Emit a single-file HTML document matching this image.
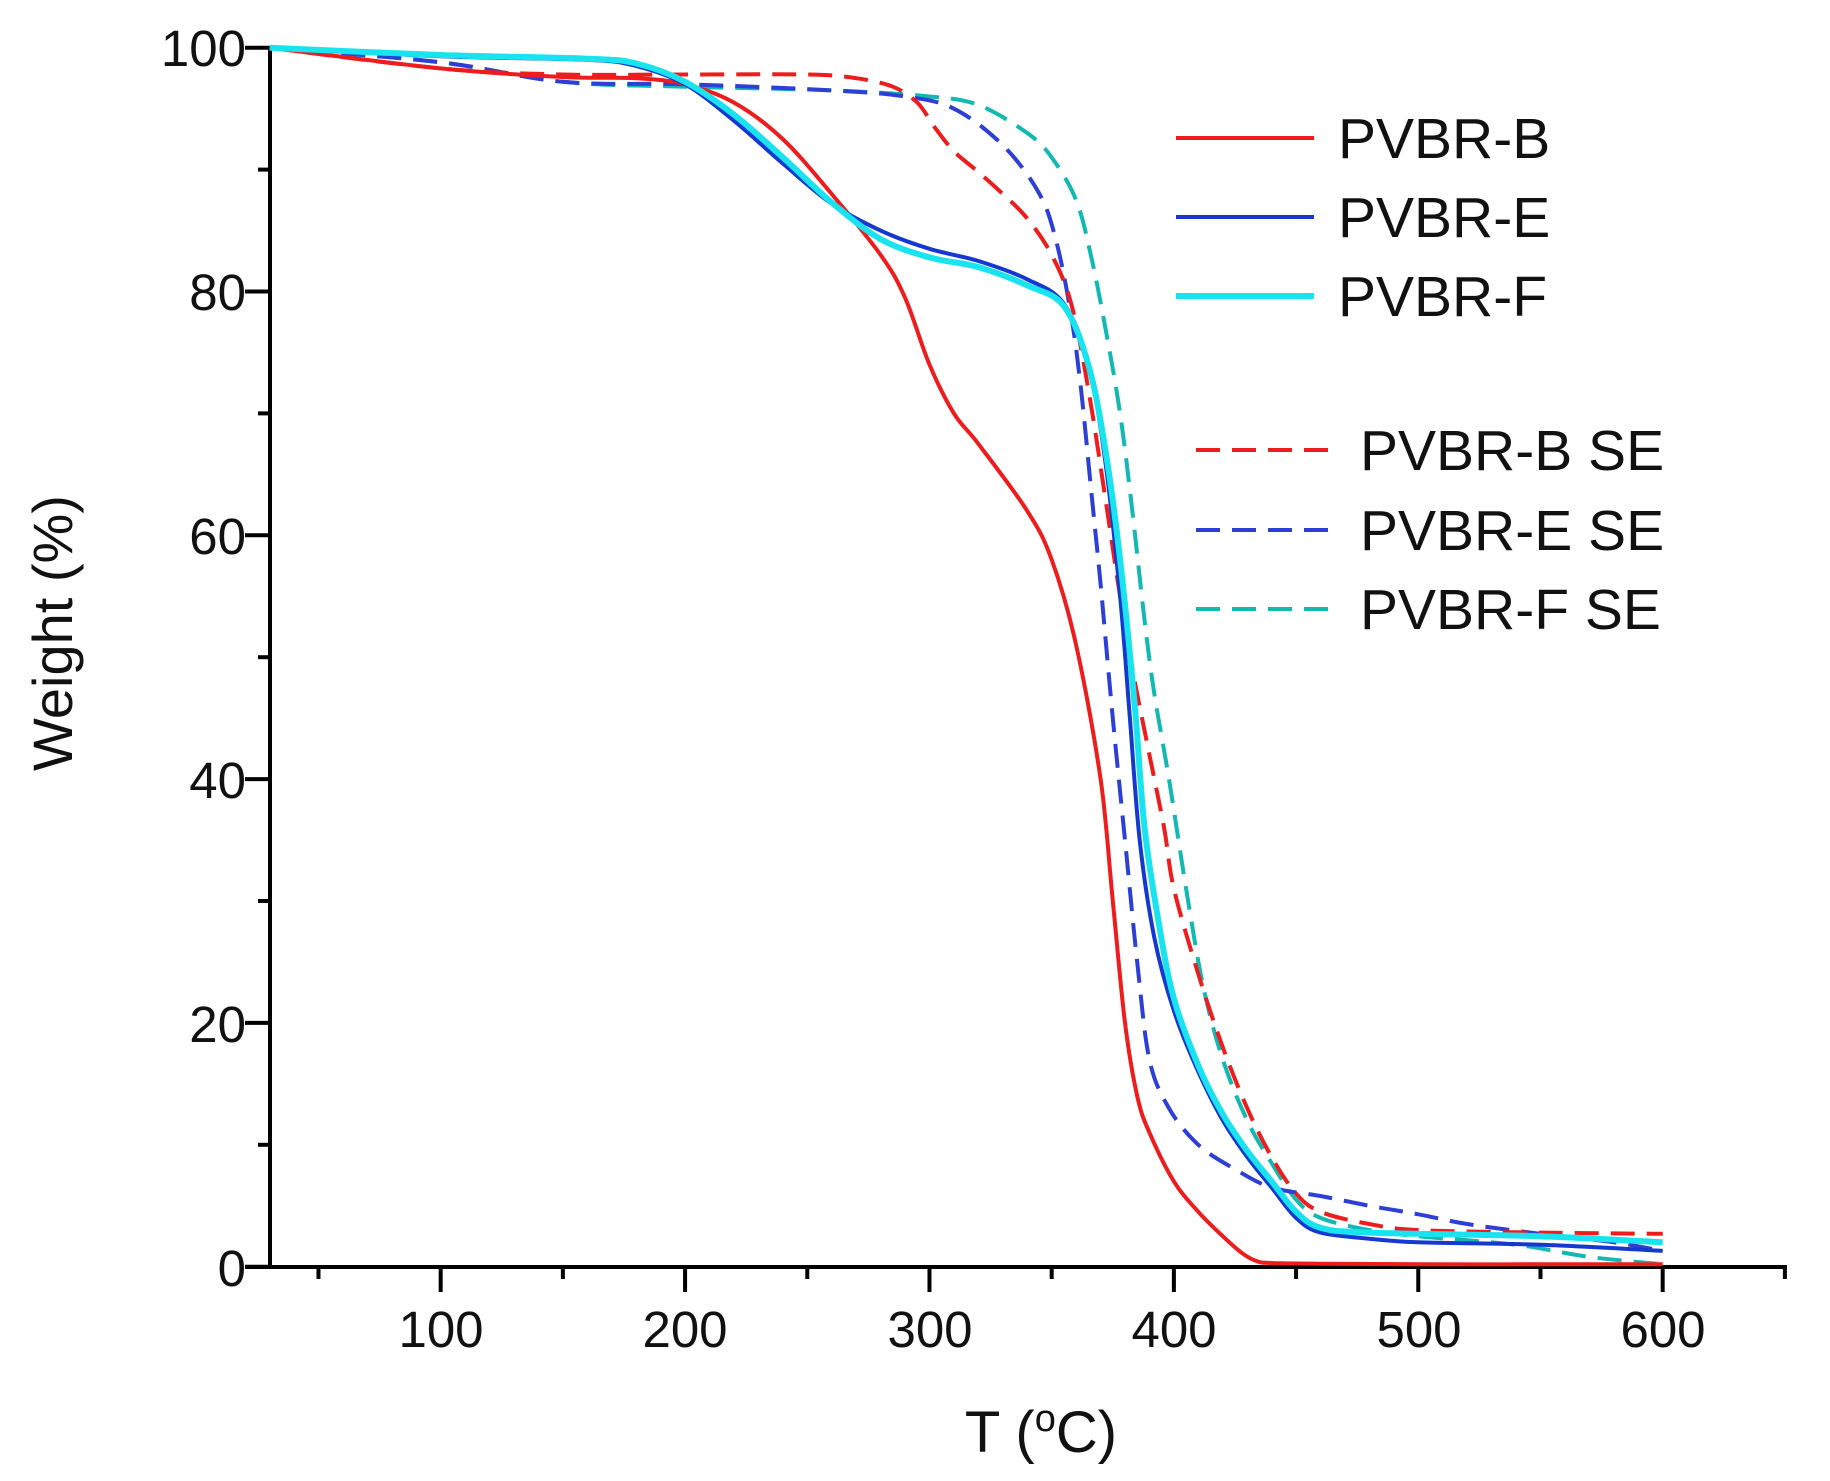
<!DOCTYPE html>
<html><head><meta charset="utf-8"><style>
html,body{margin:0;padding:0;background:#fff;}
svg{display:block;}
text{font-family:"Liberation Sans",Arial,sans-serif;fill:#111;}
</style></head><body>
<svg id="s" width="1830" height="1481" viewBox="0 0 1830 1481" xmlns="http://www.w3.org/2000/svg">
<g id="axes" stroke="#000" stroke-width="4" fill="none">
<line x1="270" y1="46" x2="270" y2="1268"/>
<line x1="245" y1="1267" x2="1787" y2="1267"/>
</g>
<g id="ticks" stroke="#000" stroke-width="4"></g>
<g id="curves" fill="none" stroke-linejoin="round"></g>
<g font-size="51" text-anchor="end">
<text x="246" y="66">100</text>
<text x="246" y="310">80</text>
<text x="246" y="554">60</text>
<text x="246" y="798">40</text>
<text x="246" y="1042">20</text>
<text x="246" y="1286">0</text>
</g>
<g font-size="51" text-anchor="middle">
<text x="441" y="1347">100</text>
<text x="685" y="1347">200</text>
<text x="930" y="1347">300</text>
<text x="1174" y="1347">400</text>
<text x="1419" y="1347">500</text>
<text x="1663" y="1347">600</text>
</g>
<text x="1041" y="1452" font-size="58" text-anchor="middle">T (<tspan font-size="38" dy="-21">o</tspan><tspan dy="21">C)</tspan></text>
<text transform="translate(72,633) rotate(-90)" font-size="56" text-anchor="middle">Weight (%)</text>
<g font-size="57">
<line x1="1176" y1="138" x2="1314" y2="138" stroke="#ee1c1c" stroke-width="4"/>
<text x="1338" y="158">PVBR-B</text>
<line x1="1176" y1="217" x2="1314" y2="217" stroke="#1438d0" stroke-width="4"/>
<text x="1338" y="237">PVBR-E</text>
<line x1="1176" y1="296" x2="1314" y2="296" stroke="#19e3ee" stroke-width="6"/>
<text x="1338" y="316">PVBR-F</text>
<line x1="1196" y1="450" x2="1336" y2="450" stroke="#ee1c1c" stroke-width="4" stroke-dasharray="24,12"/>
<text x="1360" y="470">PVBR-B SE</text>
<line x1="1196" y1="530" x2="1336" y2="530" stroke="#2d3fd6" stroke-width="4" stroke-dasharray="24,12"/>
<text x="1360" y="550">PVBR-E SE</text>
<line x1="1196" y1="609" x2="1336" y2="609" stroke="#12b8b2" stroke-width="4" stroke-dasharray="24,12"/>
<text x="1360" y="629">PVBR-F SE</text>
</g>
</svg>
<script>
var NS="http://www.w3.org/2000/svg";
function px(T){return 269.6+(T-30)*2.444;}
function py(W){return 1266.7-W*12.19;}
var tk=document.getElementById('ticks');
function L(x1,y1,x2,y2){var l=document.createElementNS(NS,'line');l.setAttribute('x1',x1);l.setAttribute('y1',y1);l.setAttribute('x2',x2);l.setAttribute('y2',y2);tk.appendChild(l);}
for(var w=0;w<=100;w+=10){var y=py(w);L(270,y,w%20==0?245:258,y);}
for(var t=50;t<=650;t+=50){var x=px(t);L(x,1267,x,t%100==0?1292:1279);}
function path(pts){
 var P=pts.map(function(p){return [px(p[0]),py(p[1])];});
 var d="M"+P[0][0].toFixed(1)+","+P[0][1].toFixed(1);
 for(var i=0;i<P.length-1;i++){
  var p0=P[i-1]||P[i],p1=P[i],p2=P[i+1],p3=P[i+2]||P[i+1];
  var c1=[p1[0]+(p2[0]-p0[0])/6,p1[1]+(p2[1]-p0[1])/6];
  var c2=[p2[0]-(p3[0]-p1[0])/6,p2[1]-(p3[1]-p1[1])/6];
  d+="C"+c1[0].toFixed(1)+","+c1[1].toFixed(1)+" "+c2[0].toFixed(1)+","+c2[1].toFixed(1)+" "+p2[0].toFixed(1)+","+p2[1].toFixed(1);
 }
 return d;
}
var series=[
 {c:"#12b8b2",w:4,dash:"24,12",d:[[30,100],[100,98.8],[150,97.2],[200,96.8],[260,96.5],[300,96],[320,95.3],[340,93],[350,91],[360,87.5],[366,83],[372,77],[378,70],[383,62],[388,53],[392,47],[398,40],[405,31],[412,23],[420,17],[430,12],[440,8.5],[450,5.5],[460,4],[480,3],[500,2.5],[540,1.8],[570,0.8],[600,0.2]]},
 {c:"#2d3fd6",w:4,dash:"24,12",d:[[30,100],[100,98.8],[150,97.2],[200,97],[260,96.5],[290,96],[310,95],[330,92],[345,88],[352,84],[358,78],[362,72],[366,64],[370,56],[375,45],[380,35],[385,25],[390,17],[398,13],[410,10],[425,8],[440,6.5],[460,5.8],[480,5],[500,4.3],[520,3.5],[550,2.7],[580,2],[600,1.3]]},
 {c:"#ee1c1c",w:4,dash:"24,12",d:[[30,100],[100,98.3],[150,97.8],[200,97.8],[250,97.8],[270,97.5],[285,96.8],[295,95.5],[302,93.5],[310,91.5],[320,89.8],[330,88],[340,86],[350,83],[358,79],[365,72],[372,63],[378,55],[384,48],[390,42],[396,36],[400,31],[410,24],[420,18],[430,13],[440,9],[450,6],[460,4.5],[480,3.5],[500,3],[550,2.8],[600,2.7]]},
 {c:"#ee1c1c",w:4,d:[[30,100],[100,98.3],[150,97.6],[180,97.5],[200,97],[220,95.5],[240,92.5],[260,88],[280,83],[290,79.5],[300,74],[310,70],[320,67.5],[340,62],[350,58],[360,51],[370,40],[375,30],[380,20],[385,14],[390,11],[400,7],[410,4.5],[420,2.5],[428,1.1],[434,0.45],[440,0.3],[460,0.25],[500,0.2],[550,0.2],[600,0.2]]},
 {c:"#1438d0",w:4,d:[[30,100],[100,99.3],[160,99],[180,98.5],[200,97],[220,94],[240,90.5],[260,87.2],[280,85],[300,83.5],[320,82.5],[340,81],[355,79],[365,74],[372,66],[378,55],[382,45],[386,35],[392,27],[400,21],[410,16],[420,12],[430,9],[440,6.5],[450,4],[460,2.8],[480,2.3],[500,2],[550,1.8],[600,1.3]]},
 {c:"#19e3ee",w:6,d:[[30,100],[100,99.4],[160,99.1],[180,98.7],[200,97.2],[220,94.5],[240,91],[260,87.3],[280,84.3],[300,82.8],[320,82],[340,80.5],[355,78.8],[365,74],[372,67],[378,58],[384,46],[388,36],[394,28],[400,22],[410,16.5],[420,12.5],[430,9.5],[440,7],[450,4.5],[460,3.2],[480,2.8],[550,2.5],[600,2]]}
];
var g=document.getElementById('curves');
series.forEach(function(s){var p=document.createElementNS(NS,'path');p.setAttribute('d',path(s.d));p.setAttribute('stroke',s.c);p.setAttribute('stroke-width',s.w);if(s.dash)p.setAttribute('stroke-dasharray',s.dash);g.appendChild(p);});
</script>
</body></html>
